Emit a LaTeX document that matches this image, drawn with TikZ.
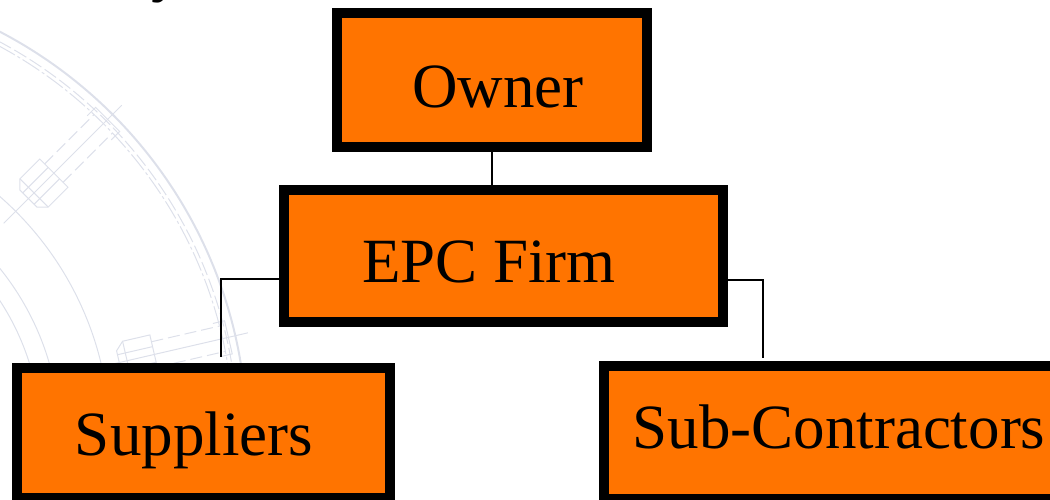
\documentclass[tikz,border=0pt]{standalone}
\usepackage{fontspec}
\setmainfont{Liberation Serif}
\definecolor{boxorange}{RGB}{255,116,0}
\definecolor{wmgray}{RGB}{221,224,234}
\begin{document}
\begin{tikzpicture}[x=1pt,y=-1pt,
  box/.style={draw=black, line width=10pt, fill=boxorange, rectangle, inner sep=0pt},
  lbl/.style={anchor=base, font=\fontsize{63}{70}\selectfont, inner sep=0pt},
  link/.style={draw=black, line width=2pt},
  wm/.style={draw=wmgray, line width=1.4pt},
  wmthin/.style={draw=wmgray, line width=1pt}]
\useasboundingbox (0,0) rectangle (1050,499);
\clip (0,0) rectangle (1050,499);

% faint flange drawing in the background
\coordinate (hub) at (-212,439);
\draw[wm, line width=2pt] (hub) circle[radius=459];
\draw[wmthin, dashed, dash pattern=on 14pt off 4pt] (hub) circle[radius=450];
\draw[wmthin, dash pattern=on 20pt off 3pt on 3pt off 3pt] (hub) circle[radius=446];
\draw[wmthin] (hub) circle[radius=322];
\draw[wmthin] (hub) circle[radius=272];
\draw[wmthin] (hub) circle[radius=253];
\foreach \ang in {45,13} {
  \begin{scope}[shift={(hub)}, rotate=\ang]
    \draw[wmthin] (305,0) -- (472,0);
    \draw[wmthin] (348,-20) -- (376,-20) -- (376,20) -- (348,20) -- (340,12) -- (340,-12) -- cycle;
    \draw[wmthin] (348,-20) -- (348,20);
    \draw[wmthin] (340,-8) -- (376,-8) (340,8) -- (376,8);
    \draw[wmthin, dash pattern=on 12pt off 5pt] (376,-13) -- (446,-13) (376,13) -- (446,13);
    \draw[wmthin] (440,-17) -- (452,-17) -- (452,17) -- (440,17);
  \end{scope}
}

% fragment of the heading above the chart
\node[anchor=base west, font=\fontsize{63}{70}\selectfont, inner sep=0pt] (heading) at (151,-11) {y};

% connectors
\coordinate (lj) at (221,279);
\coordinate (supin) at (221,357);
\coordinate (rj) at (763,280);
\coordinate (subin) at (763,358);

% boxes
\node[box, minimum width=310pt, minimum height=134pt] (owner) at (492,80) {};
\node[box, minimum width=439pt, minimum height=132pt] (epc) at (503.5,256) {};
\node[box, minimum width=373pt, minimum height=130pt] (sup) at (203.5,433) {};
\node[box, minimum width=453pt, minimum height=133pt] (sub) at (830.5,432.5) {};

\draw[link] (owner.south) -- (owner.south |- epc.north);
\draw[link] (lj -| epc.west) -- (lj) -- (supin);
\draw[link] (rj -| epc.east) -- (rj) -- (subin);

% labels
\node[lbl] (ownertext) at (498,107) {Owner};
\node[lbl] (epctext) at (489,282) {EPC Firm};
\node[lbl] (suptext) at (194,455) {Suppliers};
\node[lbl] (subtext) at (839,448) {Sub-Contractors};
\end{tikzpicture}
\end{document}
